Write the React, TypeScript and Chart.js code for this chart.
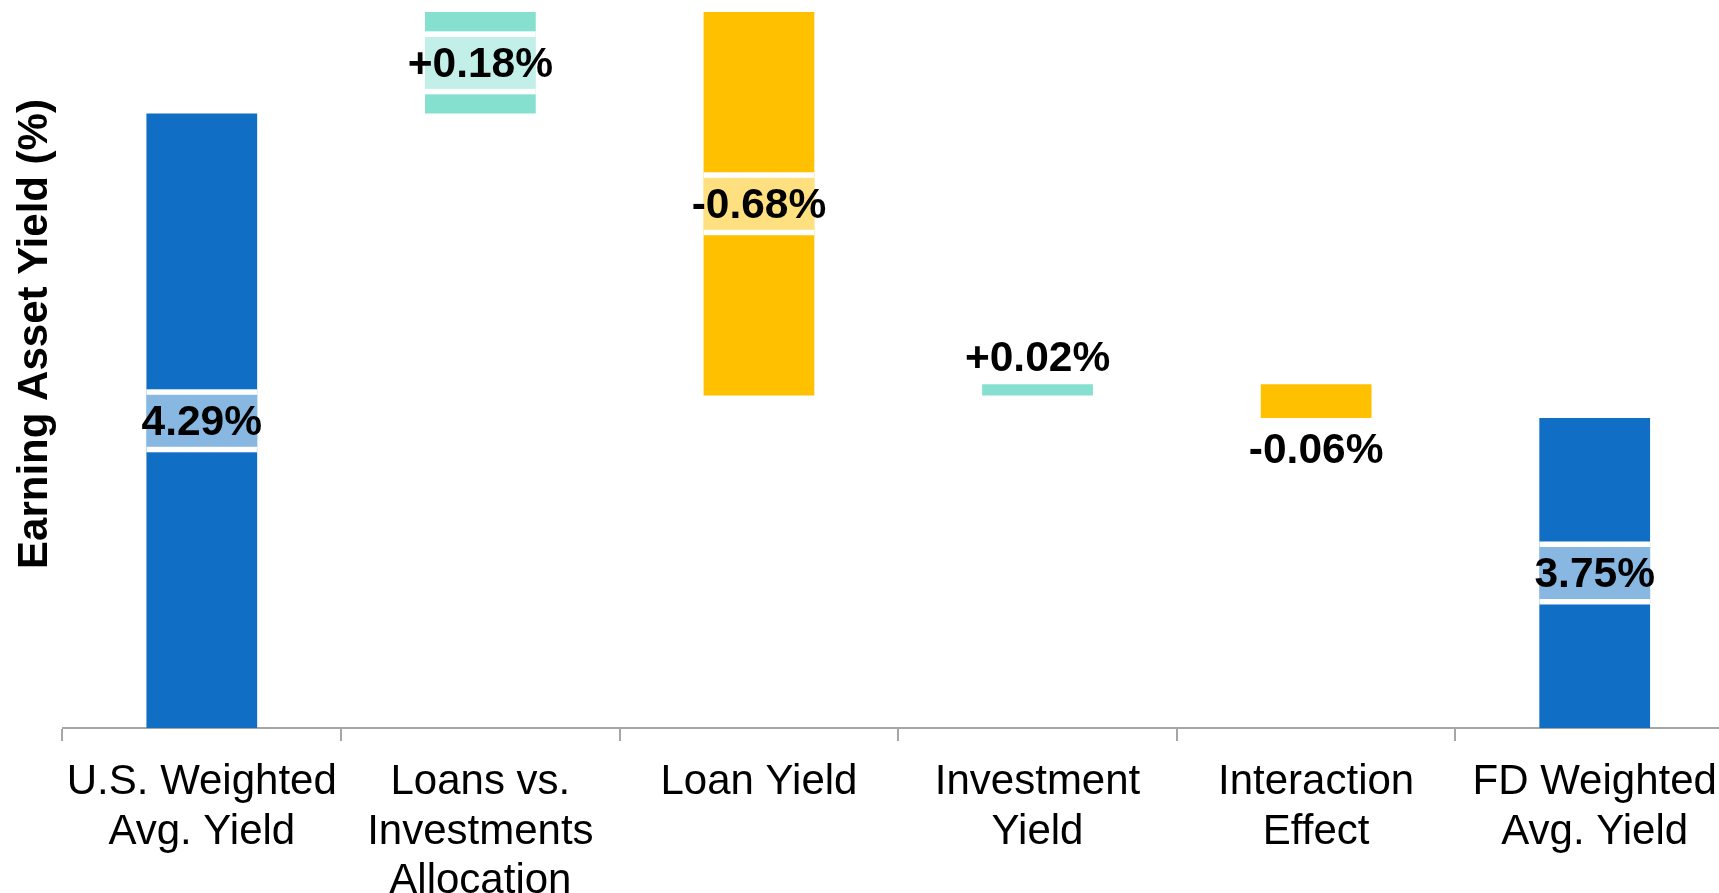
import React, { useEffect, useRef } from 'react';
import { Chart, registerables } from 'chart.js';

Chart.register(...registerables);

// ---- data ----
const categories: string[][] = [
  ['U.S. Weighted', 'Avg. Yield'],
  ['Loans vs.', 'Investments', 'Allocation'],
  ['Loan Yield'],
  ['Investment', 'Yield'],
  ['Interaction', 'Effect'],
  ['FD Weighted', 'Avg. Yield'],
];
const stepValues = [4.29, 0.18, -0.68, 0.02, -0.06, 3.75];
const stepKinds = ['total', 'change', 'change', 'change', 'change', 'total'];
const yAxisMin = 3.2;
const yAxisMax = 4.4915;
const yAxisTitle = 'Earning Asset Yield (%)';

// ---- styles ----
const FONT = '"Liberation Sans", Arial, Helvetica, sans-serif';
const totalColor = '#106EC4';
const upColor = '#85E0D0';
const downColor = '#FFC000';
const totalLight = '#88B7E2';
const upLight = '#C2F0E8';
const downLight = '#FFE080';

// build floating ranges for the waterfall from the step values
let running = 0;
const ranges: number[][] = stepValues.map((v, i) => {
  if (stepKinds[i] === 'total') {
    running = v;
    return [yAxisMin, v];
  }
  const start = running;
  running = Math.round((running + v) * 10000) / 10000;
  return [Math.min(start, running), Math.max(start, running)];
});
const barColors = stepValues.map((v, i) =>
  stepKinds[i] === 'total' ? totalColor : v >= 0 ? upColor : downColor
);
const lightColors = stepValues.map((v, i) =>
  stepKinds[i] === 'total' ? totalLight : v >= 0 ? upLight : downLight
);
const labelTexts = stepValues.map((v, i) =>
  stepKinds[i] === 'total' ? v.toFixed(2) + '%' : (v > 0 ? '+' : '') + v.toFixed(2) + '%'
);

const labelPlugin = {
  id: 'wfLabels',
  afterDatasetsDraw(chart: any) {
    const ctx = chart.ctx;
    const meta = chart.getDatasetMeta(0);
    meta.data.forEach((bar: any, i: number) => {
      const { x, y, base, width } = bar.getProps(['x', 'y', 'base', 'width'], true);
      const top = Math.min(y, base);
      const bottom = Math.max(y, base);
      const h = bottom - top;
      ctx.save();
      let ty: number;
      if (h > 80) {
        const cy = (top + bottom) / 2;
        ctx.fillStyle = '#ffffff';
        ctx.fillRect(x - width / 2, cy - 31.5, width, 63);
        ctx.fillStyle = lightColors[i];
        ctx.fillRect(x - width / 2, cy - 26, width, 52);
        ty = cy + 2.5;
      } else if (stepValues[i] >= 0) {
        ty = top - 25;
      } else {
        ty = bottom + 33;
      }
      ctx.font = 'bold 42.5px ' + FONT;
      ctx.textAlign = 'center';
      ctx.textBaseline = 'middle';
      ctx.fillStyle = '#000000';
      ctx.fillText(labelTexts[i], x, ty);
      ctx.restore();
    });
  },
};

const titlePlugin = {
  id: 'yTitle',
  afterDraw(chart: any) {
    const ctx = chart.ctx;
    ctx.save();
    ctx.translate(35, 334);
    ctx.rotate(-Math.PI / 2);
    ctx.font = 'bold 42px ' + FONT;
    ctx.textAlign = 'center';
    ctx.textBaseline = 'middle';
    ctx.fillStyle = '#000000';
    ctx.fillText(yAxisTitle, 0, 0);
    ctx.restore();
  },
};

export default function App() {
  const ref = useRef<HTMLCanvasElement | null>(null);
  useEffect(() => {
    if (!ref.current) return;
    Chart.defaults.font.family = FONT;
    const chart = new Chart(ref.current, {
      type: 'bar',
      data: {
        labels: categories as any,
        datasets: [
          {
            data: ranges as any,
            backgroundColor: barColors,
            borderWidth: 0,
            barPercentage: 0.3975,
            categoryPercentage: 1,
          },
        ],
      },
      options: {
        responsive: false,
        animation: false,
        devicePixelRatio: 1,
        layout: { padding: { left: 62.5, top: 0, right: 0, bottom: 0 } },
        plugins: { legend: { display: false }, tooltip: { enabled: false } },
        scales: {
          x: {
            offset: true,
            z: 1,
            grid: {
              display: true,
              drawOnChartArea: false,
              drawTicks: true,
              tickLength: 13,
              color: '#A6A6A6',
              lineWidth: 2,
              offset: true,
            },
            border: { display: true, color: '#A6A6A6', width: 2 },
            ticks: {
              color: '#000000',
              font: { family: FONT, size: 42, lineHeight: 1.18 },
              padding: 17,
              maxRotation: 0,
              minRotation: 0,
              autoSkip: false,
            },
            afterFit: (s: any) => {
              s.height = 165;
            },
          },
          y: {
            display: false,
            min: yAxisMin,
            max: yAxisMax,
          },
        },
      },
      plugins: [labelPlugin, titlePlugin],
    });
    return () => chart.destroy();
  }, []);
  return (
    <div
      style={{
        position: 'absolute',
        left: 0,
        top: 0,
        width: 1719,
        height: 893,
        overflow: 'hidden',
        background: '#ffffff',
      }}
    >
      <canvas ref={ref} width={1734} height={893} style={{ width: 1734, height: 893, display: 'block' }} />
    </div>
  );
}
